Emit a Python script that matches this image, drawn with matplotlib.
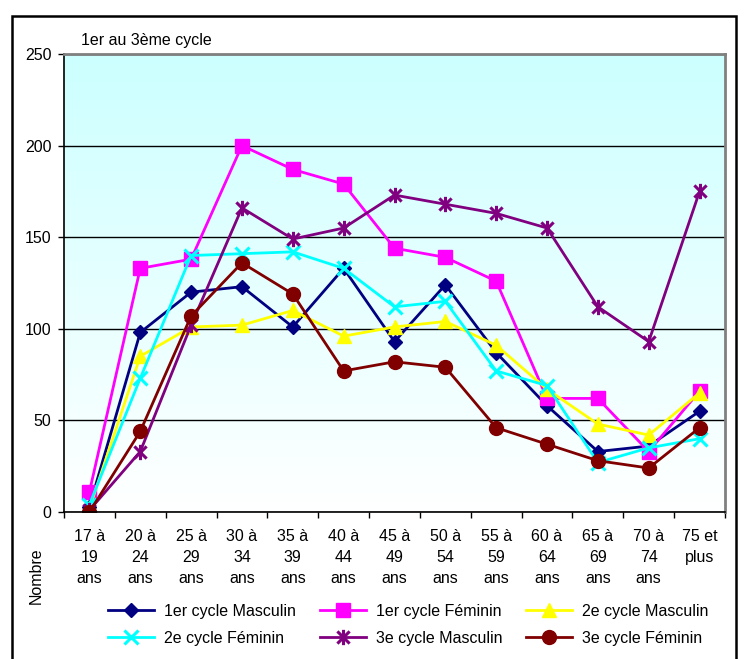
import matplotlib
matplotlib.use('Agg')
import matplotlib.pyplot as plt
import numpy as np
from matplotlib.path import Path
from matplotlib.patches import Rectangle
from matplotlib.colors import LinearSegmentedColormap

plt.rcParams['font.family'] = ['Liberation Sans', 'DejaVu Sans']
plt.rcParams['font.size'] = 11.5

categories = ["17 à\n19\nans", "20 à\n24\nans", "25 à\n29\nans", "30 à\n34\nans",
              "35 à\n39\nans", "40 à\n44\nans", "45 à\n49\nans", "50 à\n54\nans",
              "55 à\n59\nans", "60 à\n64\nans", "65 à\n69\nans", "70 à\n74\nans",
              "75 et\nplus"]

c1_masc = [3, 98, 120, 123, 101, 133, 93, 124, 87, 58, 33, 36, 55]
c1_fem = [11, 133, 138, 200, 187, 179, 144, 139, 126, 62, 62, 33, 66]
c2_masc = [2, 85, 101, 102, 110, 96, 101, 104, 91, 67, 48, 42, 65]
c2_fem = [4, 73, 140, 141, 142, 133, 112, 115, 77, 69, 27, 35, 40]
c3_masc = [1, 33, 102, 166, 149, 155, 173, 168, 163, 155, 112, 93, 175]
c3_fem = [0, 44, 107, 136, 119, 77, 82, 79, 46, 37, 28, 24, 46]

# etoile facon Excel : un X plus un trait vertical
star = Path([(-1, -1), (1, 1), (-1, 1), (1, -1), (0, -1.25), (0, 1.25)],
            [Path.MOVETO, Path.LINETO, Path.MOVETO, Path.LINETO, Path.MOVETO, Path.LINETO])

fig = plt.figure(figsize=(7.46, 6.59), dpi=100)
ax = fig.add_axes([64/746, 1 - 512/659, (725 - 64)/746, (512 - 54)/659])

x = np.arange(len(categories))

cmap = LinearSegmentedColormap.from_list('bg', ['#FFFFFF', '#CCFFFF'])
ax.imshow(np.linspace(0, 1, 256).reshape(-1, 1), cmap=cmap, origin='lower',
          extent=(-0.5, 12.5, 0, 250), aspect='auto', zorder=0)

lines = []
lines.append(ax.plot(x, c1_masc, color='#000080', lw=2, marker='D', ms=7.5,
                     mec='#000080', label='1er cycle Masculin')[0])
lines.append(ax.plot(x, c1_fem, color='#FF00FF', lw=2, marker='s', ms=10,
                     mec='#FF00FF', label='1er cycle Féminin')[0])
lines.append(ax.plot(x, c2_masc, color='#FFFF00', lw=2, marker='^', ms=10.5,
                     mec='#FFFF00', label='2e cycle Masculin')[0])
lines.append(ax.plot(x, c2_fem, color='#00FFFF', lw=2, marker='x', ms=10,
                     mew=2.2, label='2e cycle Féminin')[0])
lines.append(ax.plot(x, c3_masc, color='#800080', lw=2, marker=star, ms=11,
                     mew=2.2, mfc='none', mec='#800080', label='3e cycle Masculin')[0])
lines.append(ax.plot(x, c3_fem, color='#800000', lw=2, marker='o', ms=10,
                     mec='#800000', label='3e cycle Féminin')[0])

ax.set_xlim(-0.5, 12.5)
ax.set_ylim(0, 250)
ax.set_yticks([0, 50, 100, 150, 200, 250])
ax.set_xticks(x)
ax.set_xticklabels(categories, linespacing=1.5)
ax.set_xticks(np.arange(-0.5, 13, 1), minor=True)
ax.tick_params(axis='x', which='major', length=0, pad=12)
ax.tick_params(axis='x', which='minor', length=4, width=1, direction='out')
ax.tick_params(axis='y', length=4, width=1, direction='out', pad=5)

ax.set_axisbelow(True)
ax.yaxis.grid(True, color='black', lw=1)

for s in ['top', 'right']:
    ax.spines[s].set_color('#808080')
    ax.spines[s].set_linewidth(2)
for s in ['left', 'bottom']:
    ax.spines[s].set_color('black')
    ax.spines[s].set_linewidth(1.2)

fig.text(81/746, 1 - 41/659, '1er au 3ème cycle', ha='left', va='center')
fig.text(36/746, 1 - 576/659, 'Nombre', rotation=90, ha='center', va='center')

# ordre colonne par colonne pour avoir les lignes comme l'original
order = [0, 3, 1, 4, 2, 5]
fig.legend([lines[i] for i in order], [lines[i].get_label() for i in order],
           ncol=3, frameon=False, loc='upper left',
           bbox_to_anchor=(108/746, 1 - 604/659), borderpad=0, borderaxespad=0,
           handlelength=2.9, handletextpad=0.6, columnspacing=1.5, labelspacing=0.75)

# cadre exterieur
fig.patches.append(Rectangle((12/746, -0.1), (736 - 12)/746, 1.1 - 16/659,
                             transform=fig.transFigure, fill=False,
                             edgecolor='black', lw=1.8))

fig.savefig('out.png', dpi=100)
